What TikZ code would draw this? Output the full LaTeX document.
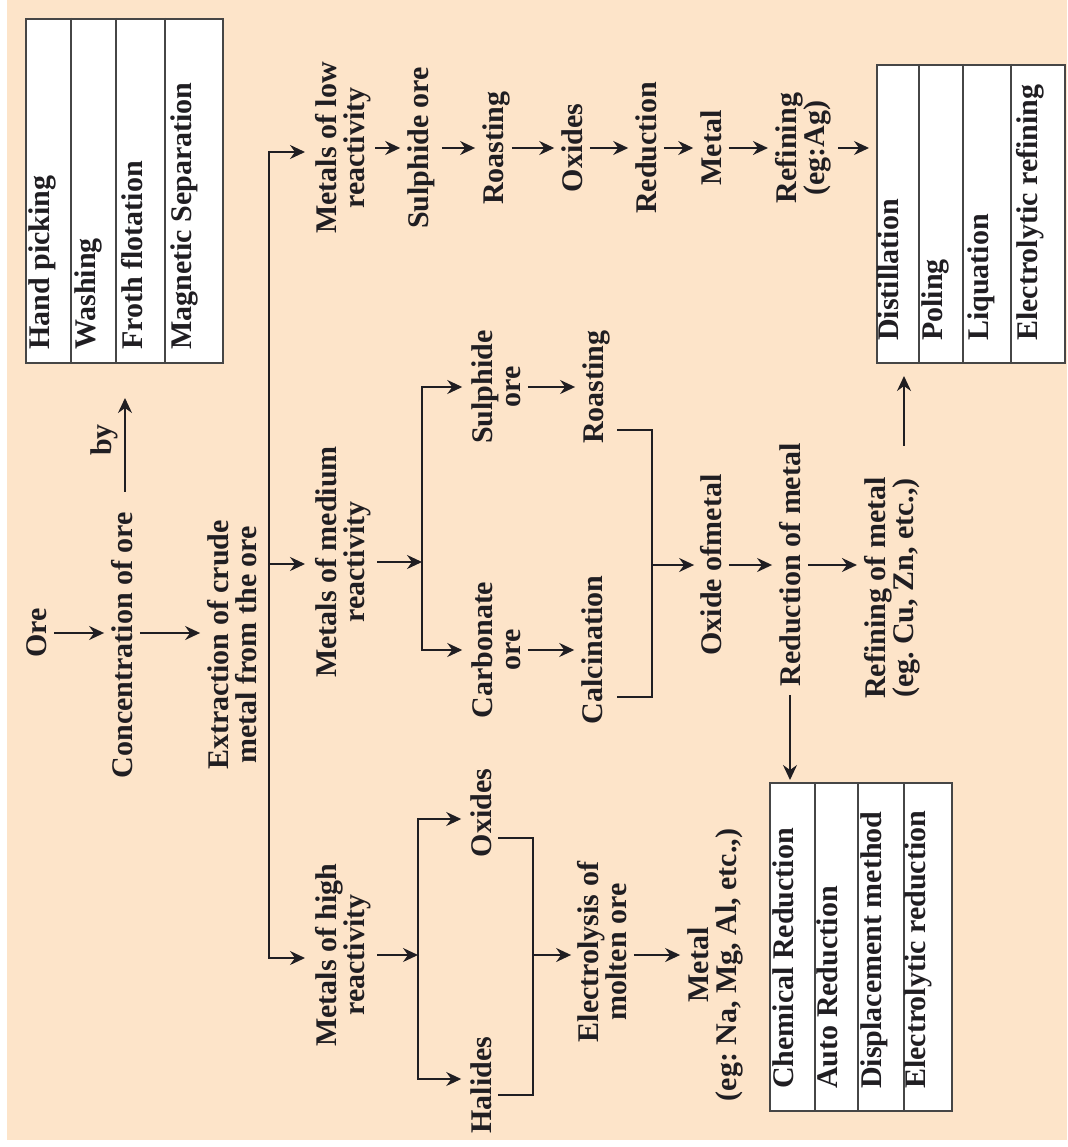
\documentclass[tikz,border=0pt]{standalone}
\usepackage{fontspec}
\setmainfont{Liberation Serif}
\usetikzlibrary{arrows.meta,calc}

\definecolor{peach}{RGB}{253,228,201}
\definecolor{ink}{RGB}{32,30,34}
\definecolor{rule}{RGB}{70,70,70}

\begin{document}
\frenchspacing
\begin{tikzpicture}[x=1pt,y=-1pt,
  every node/.style={font=\fontsize{30}{28}\selectfont\bfseries, text=ink},
  lbl/.style={rotate=90, inner sep=0pt, align=center},
  item/.style={rotate=90, inner sep=0pt, anchor=mid west},
  link/.style={draw=ink, line width=1.7pt},
  tip/.tip={Stealth[length=15pt,width=14pt,inset=5pt]},
  arr/.style={link, -tip},
  twin/.style={link, tip-tip},
  gap/.style={shorten <=7pt, shorten >=7pt},
  panel/.style={draw=rule, line width=2pt, fill=white, inner sep=0pt, anchor=north west},
  divider/.style={draw=rule, line width=1.8pt}
]
\useasboundingbox (0,0) rectangle (1067,1147);
\fill[white] (0,0) rectangle (1067,1147);
\fill[peach] (7,0) rectangle (1067,1140);

% ---------- method panels ----------
\node[panel, minimum width=197pt, minimum height=344pt] (box1) at (25,18) {};
\draw[divider] (71,18) -- (71,362) (116,18) -- (116,362) (165,18) -- (165,362);
\node[item] (hand)  at (47,350)  {Hand picking};
\node[item] (wash)  at (93,350)  {Washing};
\node[item] (froth) at (140,350) {Froth flotation};
\node[item] (magn)  at (189,350) {Magnetic Separation};

\node[panel, minimum width=188pt, minimum height=298pt] (box2) at (876,64) {};
\draw[divider] (919,64) -- (919,362) (963,64) -- (963,362) (1011,64) -- (1011,362);
\node[item] (dist) at (896,341)  {Distillation};
\node[item] (pol)  at (940,341)  {Poling};
\node[item] (liq)  at (986,341)  {Liquation};
\node[item] (elr)  at (1035,341) {Electrolytic refining};

\node[panel, minimum width=182pt, minimum height=328pt] (box3) at (769,782) {};
\draw[divider] (815,782) -- (815,1110) (858,782) -- (858,1110) (904,782) -- (904,1110);
\node[item] (chem) at (791,1089) {Chemical Reduction};
\node[item] (auto) at (835,1089) {Auto Reduction};
\node[item] (disp) at (879,1089) {Displacement method};
\node[item] (elred) at (923,1089) {Electrolytic reduction};

% ---------- main chain ----------
\node[lbl] (ore)  at (37,633)  {Ore};
\node[lbl] (conc) at (122,645) {Concentration of ore};
\node[lbl] (by)   at (104,440) {by};
\node[lbl] (extr) at (232,645) {Extraction of crude\\metal from the ore};

\draw[arr,gap] (ore.south) -- (ore.south -| conc.north);
\draw[arr,gap] (ore.south -| conc.south) -- (ore.south -| extr.north);
\coordinate (byfoot) at ($(conc.east)+(3,0)$);
\draw[arr, shorten <=20pt, shorten >=34pt] (byfoot) -- (byfoot |- box1.south);

% ---------- three reactivity branches ----------
\node[lbl] (low)  at (343,148) {Metals of low\\reactivity};
\node[lbl] (med)  at (343,562) {Metals of medium\\reactivity};
\node[lbl] (high) at (343,955) {Metals of high\\reactivity};

\coordinate (sptop) at (269,152);
\coordinate (spmid) at (269,564);
\coordinate (spbot) at (269,958);
\draw[twin, shorten <=10pt, shorten >=10pt]
  (sptop -| low.north) -- (sptop) -- (spbot) -- (spbot -| high.north);
\draw[arr, shorten >=10pt] (spmid) -- (spmid -| med.north);

% ---------- low reactivity ----------
\node[lbl] (sul1) at (421,148) {Sulphide ore};
\node[lbl] (roa1) at (496,148) {Roasting};
\node[lbl] (oxi1) at (572,148) {Oxides};
\node[lbl] (red1) at (646,148) {Reduction};
\node[lbl] (met1) at (711,148) {Metal};
\node[lbl] (ref1) at (803,148) {Refining\\(eg:Ag)};

\draw[arr, shorten <=4pt, shorten >=7pt] (low) -- (sul1);
\draw[arr,gap] (sul1) -- (roa1);
\draw[arr, shorten <=2pt, shorten >=7pt] (roa1) -- (oxi1);
\draw[arr,gap] (oxi1) -- (red1);
\draw[arr,gap] (red1) -- (met1);
\draw[arr,gap] (met1) -- (ref1);
\draw[arr,gap] (ref1) -- (ref1 -| box2.west);

% ---------- medium reactivity ----------
\node[lbl] (sul2) at (496,387) {Sulphide\\ore};
\node[lbl] (roa2) at (596,387) {Roasting};
\node[lbl] (carb) at (496,650) {Carbonate\\ore};
\node[lbl] (calc) at (592,650) {Calcination};
\node[lbl] (oxm)  at (711,565) {Oxide ofmetal};
\node[lbl] (redm) at (790,565) {Reduction of metal};
\node[lbl] (refm) at (892,588) {Refining of metal\\(eg. Cu, Zn, etc.,)};

\coordinate (f2m) at (422,562);
\coordinate (f2t) at (422,387);
\coordinate (f2b) at (422,650);
\draw[arr, shorten <=6pt] (med.south) -- (f2m);
\draw[twin, shorten <=9pt, shorten >=9pt]
  (f2t -| sul2.north) -- (f2t) -- (f2b) -- (f2b -| carb.north);
\draw[arr,gap] (sul2) -- (roa2);
\draw[arr,gap] (carb) -- (calc);

\coordinate (b2t) at (617,430);
\coordinate (b2b) at (617,697);
\coordinate (b2m) at (652,565);
\draw[link] (b2t) -| (b2m) |- (b2b);
\draw[arr, shorten >=6pt] (b2m) -- (b2m -| oxm.north);
\draw[arr,gap] (oxm) -- (redm);
\draw[arr,gap] (redm.south) -- (redm.south -| refm.north);
\draw[arr, shorten <=8pt, shorten >=2pt] (redm.west) -- (redm.west |- box3.north);
\coordinate (rfoot) at ($(refm.east)+(12,-31)$);
\draw[arr, shorten >=12pt] (rfoot) -- (rfoot |- box2.south);

% ---------- high reactivity ----------
\node[lbl] (oxi3) at (481,813)  {Oxides};
\node[lbl] (hal)  at (481,1085) {Halides};
\node[lbl] (elec) at (602,952)  {Electrolysis of\\molten ore};
\node[lbl] (met3) at (715,965)  {Metal\\(eg: Na, Mg, Al, etc.,)};

\coordinate (f3m) at (418,955);
\coordinate (f3t) at (418,819);
\coordinate (f3b) at (418,1079);
\draw[arr, shorten <=6pt] (high.south) -- (f3m);
\draw[twin, shorten <=9pt, shorten >=9pt]
  (f3t -| oxi3.north) -- (f3t) -- (f3b) -- (f3b -| hal.north);

\coordinate (b3t) at (498,838);
\coordinate (b3b) at (498,1095);
\coordinate (b3m) at (533,955);
\draw[link] (b3t) -| (b3m) |- (b3b);
\draw[arr, shorten >=6pt] (b3m) -- (b3m -| elec.north);
\draw[arr,gap] (elec.south |- b3m) -- (b3m -| met3.north);
\end{tikzpicture}
\end{document}
